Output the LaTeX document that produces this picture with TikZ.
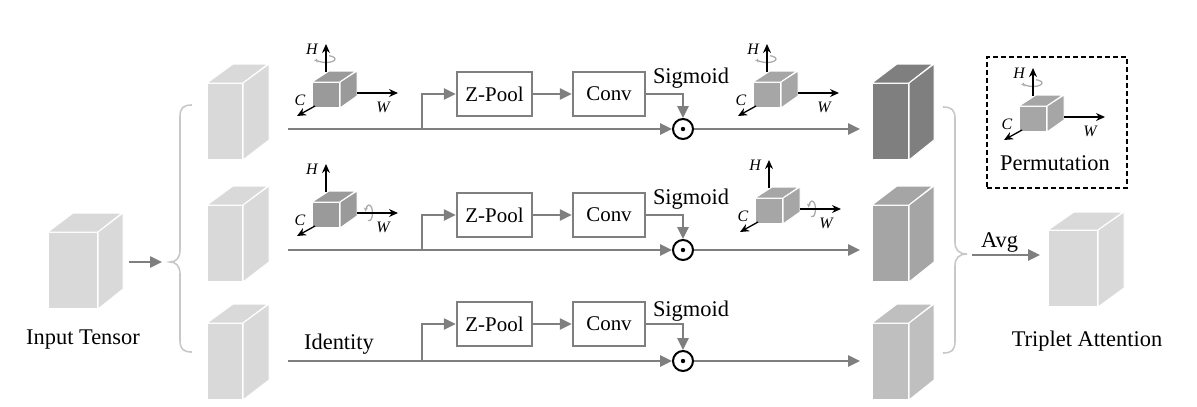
\documentclass[tikz,border=0pt]{standalone}
\usepackage{fontspec}
\setmainfont{Liberation Serif}
\usetikzlibrary{arrows.meta,calc}
\definecolor{lg}{HTML}{7F7F7F}
\definecolor{br}{HTML}{C8C8C8}
\definecolor{cl}{HTML}{D9D9D9}
\definecolor{c1}{HTML}{7F7F7F}
\definecolor{c2}{HTML}{A5A5A5}
\definecolor{c3}{HTML}{BFBFBF}
\definecolor{pc}{HTML}{9A9A9A}
\definecolor{pc2}{HTML}{A6A6A6}
\definecolor{rc}{HTML}{ACACAC}
\tikzset{
 flow/.style={draw=lg, line width=2.5bp, -{Triangle[length=12bp,width=11bp]}},
 opbox/.style={draw=lg, line width=2.5bp, fill=white, inner sep=0, minimum height=44bp, font=\fontsize{21}{25}\selectfont},
 cubeface/.style={draw=white, line width=1bp, inner sep=0},
 cubeedge/.style={draw=white, line width=1bp},
 axis/.style={draw=black, line width=1.3bp, -{Stealth[length=9bp,width=8bp]}},
 axlab/.style={font=\fontsize{16}{19}\selectfont\itshape, inner sep=0},
 rotc/.style={draw=rc, line width=1.3bp, -{Stealth[length=4bp,width=4bp]}},
 brace/.style={draw=br, line width=1.6bp},
 lab/.style={font=\fontsize{22.5}{27}\selectfont, inner sep=0},
 odotn/.style={circle, draw=black, line width=2bp, minimum size=20bp, inner sep=0, fill=white},
}
% #1 name, #2 x left, #3 y top, #4 w, #5 h, #6 dx, #7 dy, #8 colour
\newcommand\cubeat[8]{%
 \node[cubeface, fill=#8, minimum width=#4bp, minimum height=#5bp, anchor=north west] (#1) at (#2,#3) {};
 \filldraw[cubeedge, fill=#8] (#1.north west) -- ++(#6,-#7) -- ++(#4,0) -- (#1.north east) -- cycle;
 \filldraw[cubeedge, fill=#8] (#1.north east) -- ++(#6,-#7) -- ++(0,#5) -- (#1.south east) -- cycle;
}
\newcommand\rotH[1]{\draw[rotc] ($(#1.north west)+(14,-23)$) ++(-70:9 and 3.5) arc[start angle=-70, end angle=190, x radius=9, y radius=3.5];}
\newcommand\rotW[1]{\draw[rotc] ($(#1.north west)+(57,11)$) ++(110:3.5 and 8) arc[start angle=110, end angle=-170, x radius=3.5, y radius=8];}
\newcommand\rotN[1]{}
% #1 name, #2 x, #3 y, #4 colour, #5 rotation macro
\newcommand\permcube[5]{%
 \cubeat{#1}{#2}{#3}{27}{25}{17}{11}{#4}
 #5{#1}
 \coordinate (#1H) at ($(#1.north west)+(14,-38)$);
 \draw[axis] ($(#1.north west)+(14,-10)$) -- (#1H);
 \node[axlab] at ($(#1.north west)+(0,-33)$) {H};
 \coordinate (#1W) at ($(#1.north west)+(86,11)$);
 \draw[axis] ($(#1.north west)+(45,11)$) -- (#1W);
 \node[axlab] at ($(#1.north west)+(71,25)$) {W};
 \coordinate (#1C) at ($(#1.north west)+(-15,34)$);
 \draw[axis] ($(#1.north west)+(3,24)$) -- (#1C);
 \node[axlab] at ($(#1.north west)+(-12,18)$) {C};
}
\begin{document}
\begin{tikzpicture}[x=1bp,y=-1bp]
\useasboundingbox (0,0) rectangle (1197,406);
% input tensor
\cubeat{in}{48}{232}{49}{76}{25}{19}{cl}
\node[lab] (inlab) at (83,340) {Input Tensor};
\coordinate (ina) at (129,262);
\coordinate (inb) at (162,262);
\draw[flow] (ina) -- (inb);
% left brace
\draw[brace] (192,105) .. controls (183,105) and (180,108) .. (180,117) -- (180,250) .. controls (180,258) and (176,262) .. (170,262) .. controls (176,262) and (180,266) .. (180,274) -- (180,340) .. controls (180,349) and (183,352) .. (192,352);
% stacked copies
\cubeat{t1}{207}{83}{35}{76}{26}{19}{cl}
\cubeat{t2}{207}{205}{35}{76}{26}{19}{cl}
\cubeat{t3}{207}{323}{35}{76}{26}{19}{cl}
% permutation cubes
\permcube{p1}{312}{82}{pc}{\rotH}
\permcube{p2}{312}{202}{pc}{\rotW}
\permcube{q1}{753}{82}{pc2}{\rotH}
\permcube{q2}{755}{198}{pc2}{\rotW}
% row 1
\node[opbox, minimum width=75bp] (zp1) at (494.5,94) {Z-Pool};
\node[opbox, minimum width=72bp] (cv1) at (609,94) {Conv};
\node[odotn] (od1) at (683,129) {};
\fill (od1) circle (2.2bp);
\coordinate (s1) at (288,129);
\coordinate (b1) at (422,129);
\coordinate (e1) at (860,129);
\draw[flow] (s1) -- (od1);
\draw[flow] (b1) |- (zp1);
\draw[flow] (zp1) -- (cv1);
\draw[flow] (cv1) -| (od1);
\draw[flow] (od1) -- (e1);
\node[lab] (sg1) at (691,78) {Sigmoid};
% row 2
\node[opbox, minimum width=75bp] (zp2) at (494.5,215) {Z-Pool};
\node[opbox, minimum width=72bp] (cv2) at (609,215) {Conv};
\node[odotn] (od2) at (683,250) {};
\fill (od2) circle (2.2bp);
\coordinate (s2) at (288,250);
\coordinate (b2) at (422,250);
\coordinate (e2) at (860,250);
\draw[flow] (s2) -- (od2);
\draw[flow] (b2) |- (zp2);
\draw[flow] (zp2) -- (cv2);
\draw[flow] (cv2) -| (od2);
\draw[flow] (od2) -- (e2);
\node[lab] (sg2) at (691,199) {Sigmoid};
% row 3
\node[opbox, minimum width=75bp] (zp3) at (494.5,324) {Z-Pool};
\node[opbox, minimum width=72bp] (cv3) at (609,324) {Conv};
\node[odotn] (od3) at (683,361) {};
\fill (od3) circle (2.2bp);
\coordinate (s3) at (288,361);
\coordinate (b3) at (422,361);
\coordinate (e3) at (860,361);
\draw[flow] (s3) -- (od3);
\draw[flow] (b3) |- (zp3);
\draw[flow] (zp3) -- (cv3);
\draw[flow] (cv3) -| (od3);
\draw[flow] (od3) -- (e3);
\node[lab] (sg3) at (691,311) {Sigmoid};
\node[lab] (idl) at (339,344) {Identity};
% output cubes
\cubeat{o1}{872}{83}{36}{76}{25}{19}{c1}
\cubeat{o2}{872}{205}{36}{76}{25}{19}{c2}
\cubeat{o3}{872}{323}{36}{76}{25}{19}{c3}
% right brace
\draw[brace] (943,107) .. controls (952,107) and (955,110) .. (955,119) -- (955,242) .. controls (955,250) and (959,254) .. (967,254) .. controls (959,254) and (955,258) .. (955,266) -- (955,341) .. controls (955,350) and (952,353) .. (943,353);
% avg
\coordinate (ava) at (972,255);
\coordinate (avb) at (1040,255);
\draw[flow] (ava) -- (avb);
\node[lab] (avl) at (999.5,243) {Avg};
% triplet attention
\cubeat{ta}{1048}{230}{49}{76}{26}{18}{cl}
\node[lab] (tal) at (1087,341) {Triplet Attention};
% permutation legend
\node[draw=black, dash pattern=on 5bp off 3bp, line width=1.6bp, minimum width=140bp, minimum height=131bp, anchor=north west, inner sep=0] (perm) at (986,56) {};
\permcube{pl}{1019}{106}{pc2}{\rotH}
\node[lab] (perml) at (1055,163) {Permutation};
\end{tikzpicture}
\end{document}
